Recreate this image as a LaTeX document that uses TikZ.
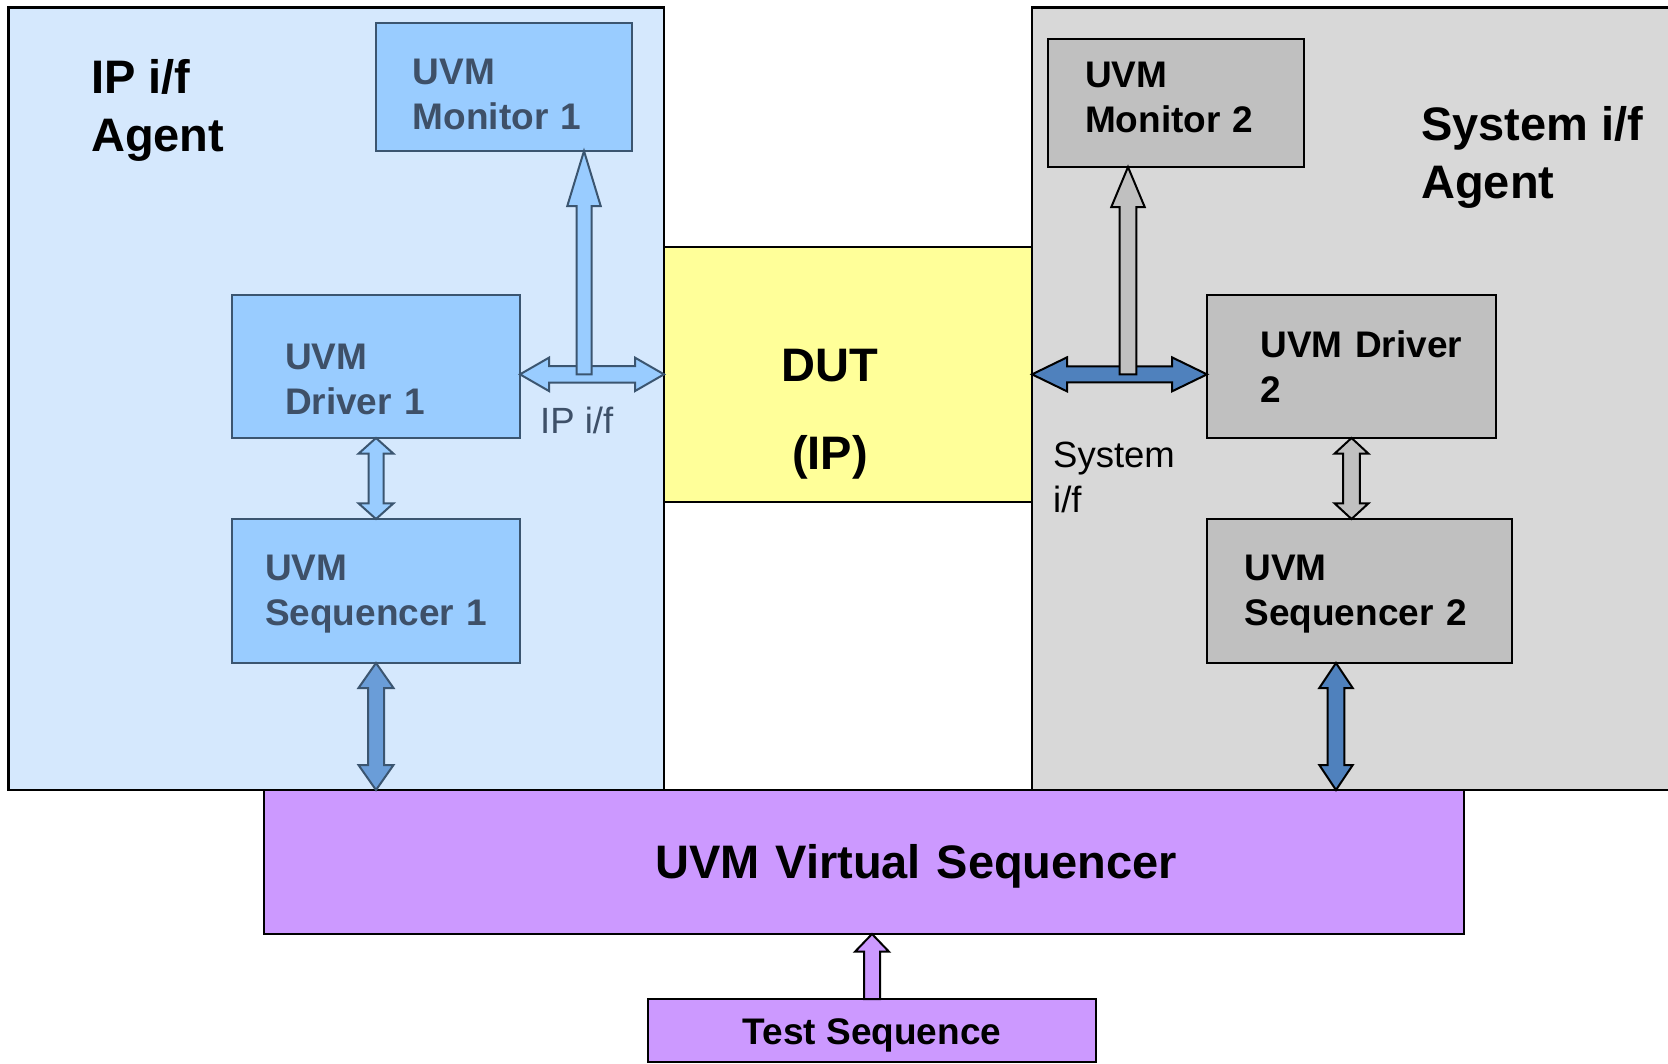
\documentclass[tikz,border=0pt]{standalone}
\usepackage{fontspec}
\setmainfont{Liberation Sans}
\usetikzlibrary{calc}
\definecolor{ipbg}{RGB}{213,232,253}
\definecolor{ipbox}{RGB}{153,204,255}
\definecolor{ipline}{RGB}{59,85,112}
\definecolor{iptext}{RGB}{62,80,104}
\definecolor{ipmid}{RGB}{106,157,216}
\definecolor{sysbg}{RGB}{216,216,216}
\definecolor{sysbox}{RGB}{192,192,192}
\definecolor{sysblue}{RGB}{79,129,189}
\definecolor{dutfill}{RGB}{255,255,153}
\definecolor{vsfill}{RGB}{204,153,255}
% fat block arrows: [style](start)(end)(shaft half:head half:head length)
\def\vdarr[#1](#2)(#3)(#4:#5:#6){\draw[#1] (#2) -- ++(#5,#6) -- ++(#4-#5,0) -- ($(#3)+(#4,-#6)$) -- ++(#5-#4,0) -- (#3) -- ++(-#5,-#6) -- ++(#5-#4,0) -- ($(#2)+(-#4,#6)$) -- ++(#4-#5,0) -- cycle;}
\def\hdarr[#1](#2)(#3)(#4:#5:#6){\draw[#1] (#2) -- ++(#6,-#5) -- ++(0,#5-#4) -- ($(#3)+(-#6,-#4)$) -- ++(0,#4-#5) -- (#3) -- ++(-#6,#5) -- ++(0,#4-#5) -- ($(#2)+(#6,#4)$) -- ++(0,#5-#4) -- cycle;}
\def\uarr[#1](#2)(#3)(#4:#5:#6){\draw[#1] ($(#2)+(-#4,0)$) -- ($(#3)+(-#4,#6)$) -- ++(#4-#5,0) -- (#3) -- ++(#5,#6) -- ++(#4-#5,0) -- ($(#2)+(#4,0)$) -- cycle;}
\tikzset{
  agent/.style={draw=black, line width=2.5, inner sep=0, outer sep=0},
  ipunit/.style={draw=ipline, fill=ipbox, line width=2, outer sep=0, inner xsep=0, text=iptext, align=left, font=\fontsize{37}{45}\selectfont\bfseries},
  sysunit/.style={draw=black, fill=sysbox, line width=2, outer sep=0, inner xsep=0, align=left, font=\fontsize{37}{45}\selectfont\bfseries},
  vsbox/.style={draw=black, fill=vsfill, line width=2, outer sep=0, inner xsep=0},
  agtitle/.style={inner sep=0, align=left, font=\fontsize{47}{58.5}\selectfont\bfseries},
  iflabel/.style={inner sep=0, align=left, font=\fontsize{36.5}{45}\selectfont},
  iparrow/.style={draw=ipline, fill=ipbox, line width=2},
  ipmidarrow/.style={draw=ipline, fill=ipmid, line width=2},
  sysarrow/.style={draw=black, fill=sysblue, line width=2},
  sysgrayarrow/.style={draw=black, fill=sysbox, line width=2},
  tsarrow/.style={draw=black, fill=vsfill, line width=2}
}
\begin{document}
\begin{tikzpicture}[x=1pt, y=-1pt]
  \useasboundingbox (0,0) rectangle (1668,1063);
  \clip (0,0) rectangle (1668,1063);

  % agents and DUT
  \node[agent, fill=ipbg, minimum width=655.5, minimum height=782.6] (ipagt) at (336.25,398.7) {};
  \node[agent, fill=sysbg, minimum width=643, minimum height=782.6] (sysagt) at (1353.5,398.7) {};
  \node[agent, line width=2, fill=dutfill, minimum width=368, minimum height=255.3] (dut) at (848,374.35) {};

  % IP side units
  \node[ipunit, minimum width=256.5, minimum height=127.6, text width=182, text height=40] (mon1) at (503.75,87.2) {UVM\\Monitor~1};
  \node[ipunit, minimum width=288, minimum height=143, text width=182, text height=51] (drv1) at (376,366.5) {UVM\\Driver~1};
  \node[ipunit, minimum width=288, minimum height=144, text width=222, text height=31] (seq1) at (376,591) {UVM\\Sequencer~1};

  % system side units
  \node[sysunit, minimum width=256, minimum height=128, text width=182, text depth=57] (mon2) at (1176,103) {UVM\\Monitor~2};
  \node[sysunit, minimum width=289, minimum height=143, text width=182] (drv2) at (1351.5,366.5) {\mbox{UVM Driver}\\2};
  \node[sysunit, minimum width=305, minimum height=144, text width=230, text height=31] (seq2) at (1359.5,591) {UVM\\Sequencer~2};

  % sequencers
  \node[vsbox, minimum width=1200, minimum height=144, text width=626, text height=42, align=right, font=\fontsize{47}{56}\selectfont\bfseries] (vseq) at (864,862) {UVM Virtual Sequencer};
  \node[vsbox, minimum width=448, minimum height=63, text height=35, font=\fontsize{37}{45}\selectfont\bfseries] (tseq) at (872,1030.5) {Test Sequence};

  % interfaces
  \hdarr[iparrow](drv1.east|-dut.west)(dut.west)(8.3:16.7:29);
  \hdarr[sysarrow](dut.east)(drv2.west|-dut.east)(8:17:35);
  \coordinate (mon1tap) at ($(dut.west)+(-80,0)$);
  \coordinate (mon2tap) at ($(dut.east)+(96,0)$);
  \uarr[iparrow](mon1tap)(mon1tap|-mon1.south)(7.5:16.7:55);
  \uarr[sysgrayarrow](mon2tap)(mon2tap|-mon2.south)(8.3:16.7:40);

  % driver / sequencer links
  \vdarr[iparrow](drv1.south)(seq1.north)(7.5:17.5:15.7);
  \vdarr[ipmidarrow](seq1.south)(seq1.south|-vseq.north)(8:17.5:25);
  \vdarr[sysgrayarrow](drv2.south)(drv2.south|-seq2.north)(8.3:17:15.7);
  \coordinate (seq2tap) at ($(seq2.south)+(-23.5,0)$);
  \vdarr[sysarrow](seq2tap)(seq2tap|-vseq.north)(8.3:16.7:25);
  \uarr[tsarrow](tseq.north)(tseq.north|-vseq.south)(8:17:17.7);

  % texts
  \node[agtitle, anchor=north west] (iptitle) at (91,59) {IP i/f\\Agent};
  \node[agtitle, anchor=north west] (systitle) at (1421,106) {System i/f\\Agent};
  \node[align=center, font=\fontsize{47}{88}\selectfont\bfseries] (duttxt) at ($(dut.center)+(-18,40)$) {DUT\\(IP)};
  \node[iflabel, text=iptext, anchor=north west] (iplbl) at (540,407) {IP i/f};
  \node[iflabel, anchor=north west] (syslbl) at (1053,442) {System\\i/f};
\end{tikzpicture}
\end{document}
